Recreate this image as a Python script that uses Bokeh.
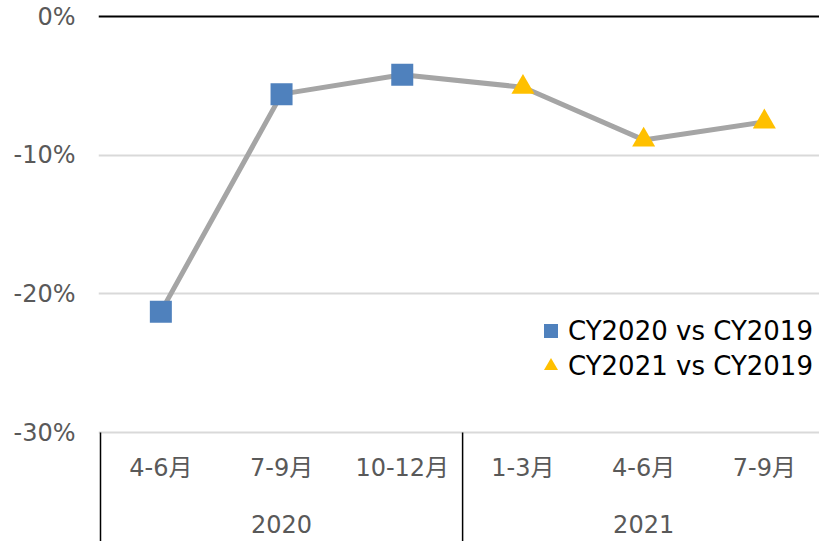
from bokeh.plotting import figure
from bokeh.models import (FixedTicker, PrintfTickFormatter, Span,
                          Legend, LegendItem, Range1d)
from bokeh.core.properties import value
from bokeh.embed import file_html
from bokeh.resources import INLINE

# ---- data ----
categories = ["4-6月", "7-9月", "10-12月", "1-3月", "4-6月", "7-9月"]
years = ["2020", "2021"]
year_sizes = [3, 3]
values = [-21.3, -5.6, -4.2, -5.1, -8.9, -7.6]
series_names = ["CY2020 vs CY2019", "CY2021 vs CY2019"]
y_ticks = [0, -10, -20, -30]

FONT = "DejaVu Sans, Noto Sans CJK JP"
xs = list(range(1, len(categories) + 1))

# ---- layout (pixels) ----
W, H = 819, 541
TOP, AXIS_Y, LEFT = 16, 432, 100
PAD = 2  # extra pixels so edge lines are not clipped
CAT_Y, YEAR_Y = 467, 523
px_per_unit = (AXIS_Y - TOP) / (max(y_ticks) - min(y_ticks))
y_bottom = min(y_ticks) - (H - AXIS_Y) / px_per_unit
y_top = max(y_ticks) + PAD / px_per_unit
cat_px = 120.7
x_left = 0.5 - PAD / cat_px
x_right = 0.5 + (W - LEFT) / cat_px
cat_label_y = min(y_ticks) - (CAT_Y - AXIS_Y) / px_per_unit
year_label_y = min(y_ticks) - (YEAR_Y - AXIS_Y) / px_per_unit

p = figure(width=W, height=H, output_backend="svg", toolbar_location=None,
           x_range=Range1d(x_left, x_right), y_range=Range1d(y_bottom, y_top),
           min_border_left=LEFT - PAD, min_border_right=0, min_border_top=TOP - PAD,
           min_border_bottom=0, x_axis_location=None)
p.outline_line_color = None
p.background_fill_color = "white"
p.border_fill_color = "white"

# grid
p.xgrid.visible = False
p.ygrid.ticker = FixedTicker(ticks=[t for t in y_ticks if t != 0])
p.ygrid.grid_line_color = "#d9d9d9"
p.ygrid.grid_line_width = 2
p.add_layout(Span(location=0, dimension="width", line_color="black", line_width=2))

# y axis
ya = p.yaxis[0]
ya.ticker = FixedTicker(ticks=y_ticks)
ya.formatter = PrintfTickFormatter(format="%d%%")
ya.axis_line_color = None
ya.major_tick_line_color = None
ya.minor_tick_line_color = None
ya.major_tick_out = 0
ya.major_label_standoff = 25 - PAD
ya.major_label_text_font = FONT
ya.major_label_text_font_size = "24px"
ya.major_label_text_color = "#595959"

# category axis drawn below the value range
bounds = [0.5]
for s in year_sizes:
    bounds.append(bounds[-1] + s)
p.segment(x0=bounds, y0=[min(y_ticks)] * len(bounds), x1=bounds,
          y1=[y_bottom] * len(bounds), line_color="black", line_width=1.5)
p.text(x=xs, y=[cat_label_y] * len(xs), text=categories,
       text_align="center", text_baseline="middle",
       text_font=value(FONT), text_font_size="24px", text_color="#595959")
year_centers = [(bounds[i] + bounds[i + 1]) / 2 for i in range(len(years))]
p.text(x=year_centers, y=[year_label_y] * len(years), text=years,
       text_align="center", text_baseline="middle",
       text_font=value(FONT), text_font_size="24px", text_color="#595959")

# line
p.line(xs, values, line_color="#a5a5a5", line_width=5)

# markers
n1 = year_sizes[0]
r1 = p.scatter(xs[:n1], values[:n1], marker="square", size=22,
               fill_color="#4f81bd", line_color=None)
r2 = p.scatter(xs[n1:], values[n1:], marker="triangle", size=23,
               fill_color="#ffc000", line_color=None)

legend = Legend(items=[LegendItem(label=series_names[0], renderers=[r1]),
                       LegendItem(label=series_names[1], renderers=[r2])],
                location=(433 + PAD, 158))
legend.background_fill_alpha = 0
legend.border_line_color = None
legend.label_text_font = FONT
legend.label_text_font_size = "26px"
legend.label_text_color = "black"
legend.glyph_width = 35
legend.glyph_height = 35
legend.spacing = 0
legend.padding = 0
legend.margin = 0
legend.label_standoff = 0
p.add_layout(legend)

open("out.html", "w").write(file_html(p, INLINE))
